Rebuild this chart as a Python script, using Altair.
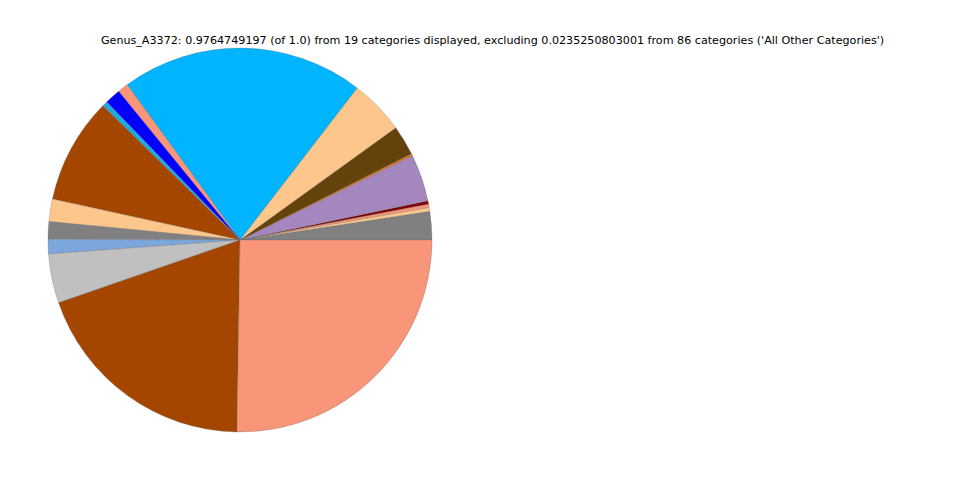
import altair as alt
import pandas as pd
import math

# Categories in matplotlib order (counter-clockwise from 3 o'clock)
categories = [f"Category {i+1}" for i in range(19)]
values = [0.02333, 0.00325, 0.00271, 0.00271, 0.03879, 0.00163, 0.02468,
          0.04503, 0.19964, 0.00868, 0.01302, 0.00434, 0.08707, 0.01844,
          0.01438, 0.01193, 0.04042, 0.18987, 0.24656]
colors = ["#808080", "#FDC78C", "#F9967A", "#800000", "#A587BF", "#E8740C",
          "#65420C", "#FDC78C", "#00B4FF", "#F9967A", "#0000FF", "#1CA8E3",
          "#A54600", "#FDC78C", "#808080", "#7BA7DC", "#C0C0C0", "#A54600",
          "#F9967A"]
title_text = ("Genus_A3372: 0.9764749197 (of 1.0) from 19 categories displayed, "
              "excluding 0.0235250803001 from 86 categories ('All Other Categories')")

n = len(categories)
df = pd.DataFrame({
    "category": categories,
    "value": values,
    # Vega draws clockwise from 12 o'clock; reverse so it matches CCW from 3 o'clock
    "order": [n - i for i in range(n)],
})

pie = alt.Chart(df).mark_arc(outerRadius=192, stroke="#666666", strokeWidth=0.3).encode(
    theta=alt.Theta("value:Q", stack=True,
                    scale=alt.Scale(range=[math.pi / 2, math.pi / 2 + 2 * math.pi])),
    order=alt.Order("order:Q", sort="ascending"),
    color=alt.Color("category:N", scale=alt.Scale(domain=categories, range=colors),
                    legend=None),
    x=alt.value(232),
    y=alt.value(232),
)

title = alt.Chart(pd.DataFrame({"t": [title_text]})).mark_text(
    font="DejaVu Sans", fontSize=11.15, color="black", align="center", baseline="middle"
).encode(
    text="t:N",
    x=alt.value(484.5),
    y=alt.value(32.5),
)

chart = alt.layer(pie, title).properties(
    width=944, height=464, padding=0, autosize=alt.AutoSizeParams(type="none")
).configure_view(stroke=None)

chart.save("out.html", embed_options={"renderer": "svg", "actions": False})
